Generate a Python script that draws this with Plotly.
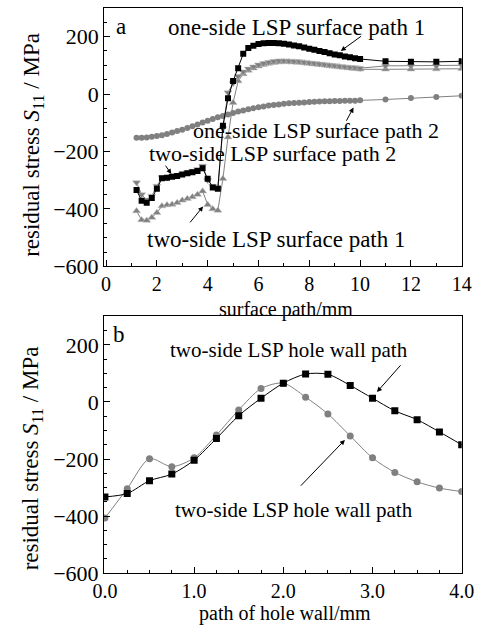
import plotly.graph_objects as go

# ---------------- panel a: surface paths ----------------
x_surf = [1.2, 1.4, 1.6, 1.8, 2.0, 2.2, 2.4, 2.6, 2.8, 3.0, 3.2, 3.4, 3.6, 3.8, 4.0, 4.2, 4.4,
          4.6, 4.8, 5.0, 5.2, 5.4, 5.6, 5.8, 6.0, 6.2, 6.4, 6.6, 6.8, 7.0, 7.2, 7.4, 7.6, 7.8,
          8.0, 8.2, 8.4, 8.6, 8.8, 9.0, 9.2, 9.4, 9.6, 9.8, 10.0, 11, 12, 13, 14]

one_side_p1 = [-334, -371, -378, -362, -330, -293, -291, -288, -285, -280, -276, -272, -268, -258,
               -295, -325, -330, -110, -15, 45, 90, 140, 160, 168, 174, 177, 178, 178, 177, 175,
               172, 169, 166, 162, 158, 154, 150, 146, 142, 138, 135, 131, 128, 125, 122,
               114, 112, 112, 114]

two_side_p2 = [-308, -350, -368, -355, -320, -290, -290, -286, -283, -278, -273, -268, -262, -250,
               -300, -320, -325, -120, 5, 38, 62, 78, 88, 95, 102, 107, 111, 114, 116, 116,
               115, 114, 113, 111, 109, 107, 105, 103, 101, 99, 97, 95, 93, 92, 90,
               98, 98, 98, 100]

two_side_p1 = [-407, -438, -440, -430, -413, -390, -386, -384, -378, -370, -364, -358, -350, -338,
               -385, -400, -405, -295, -150, -30, 45, 70, 82, 90, 97, 102, 106, 109, 111, 112,
               112, 111, 110, 108, 106, 104, 102, 100, 98, 96, 94, 92, 90, 88, 86,
               86, 86, 87, 88]

one_side_p2 = [-152, -152, -151, -149, -146, -143, -139, -134, -129, -124, -118, -112, -106, -99,
               -93, -87, -81, -76, -71, -66, -61, -57, -53, -49, -46, -43, -40, -38, -36, -34,
               -32, -31, -30, -29, -28, -27, -26, -25, -25, -24, -24, -23, -23, -23, -22,
               -19, -14, -10, -6]

# ---------------- panel b: hole wall path ----------------
x_hole = [0.0, 0.25, 0.5, 0.75, 1.0, 1.25, 1.5, 1.75, 2.0, 2.25, 2.5, 2.75, 3.0, 3.25, 3.5, 3.75, 4.0]
hole_black = [-333, -321, -276, -253, -204, -128, -48, 13, 66, 98, 97, 58, 13, -31, -62, -105, -150]
hole_grey = [-407, -304, -199, -227, -196, -116, -28, 47, 66, 17, -42, -119, -196, -247, -280, -302, -314]

FONT = "Liberation Serif"
GREY = "#808080"
BLACK = "#000000"

W, H = 488, 638


def px(xp):
    return xp / W


def py(yp):
    return 1 - yp / H


fig = go.Figure()

# panel a traces
fig.add_trace(go.Scatter(x=x_surf, y=one_side_p2, mode="lines+markers", xaxis="x", yaxis="y",
                         line=dict(color=GREY, width=1),
                         marker=dict(symbol="circle", size=6, color=GREY), showlegend=False))
fig.add_trace(go.Scatter(x=x_surf, y=two_side_p1, mode="lines+markers", xaxis="x", yaxis="y",
                         line=dict(color=GREY, width=1),
                         marker=dict(symbol="triangle-up", size=7, color=GREY,
                                     line=dict(color="#c0c0c0", width=0.5)), showlegend=False))
fig.add_trace(go.Scatter(x=x_surf, y=two_side_p2, mode="lines+markers", xaxis="x", yaxis="y",
                         line=dict(color=GREY, width=1),
                         marker=dict(symbol="triangle-down", size=7, color=GREY,
                                     line=dict(color="#c0c0c0", width=0.5)), showlegend=False))
fig.add_trace(go.Scatter(x=x_surf, y=one_side_p1, mode="lines+markers", xaxis="x", yaxis="y",
                         line=dict(color=BLACK, width=1),
                         marker=dict(symbol="square", size=6, color=BLACK), showlegend=False))

# panel b traces
fig.add_trace(go.Scatter(x=x_hole, y=hole_grey, mode="lines+markers", xaxis="x2", yaxis="y2",
                         line=dict(color=GREY, width=1, shape="spline", smoothing=0.8),
                         marker=dict(symbol="circle", size=7, color=GREY), showlegend=False))
fig.add_trace(go.Scatter(x=x_hole, y=hole_black, mode="lines+markers", xaxis="x2", yaxis="y2",
                         line=dict(color=BLACK, width=1, shape="spline", smoothing=0.8),
                         marker=dict(symbol="square", size=7, color=BLACK), showlegend=False))

axis_common = dict(showline=True, linecolor="black", linewidth=1, mirror=True,
                   ticks="inside", ticklen=6, tickwidth=1, tickcolor="black",
                   showgrid=False, zeroline=False)
xfont = dict(family=FONT, size=20, color="black")
yfont = dict(family=FONT, size=22, color="black")

fig.update_layout(
    width=W, height=H,
    margin=dict(l=0, r=0, t=0, b=0),
    paper_bgcolor="white", plot_bgcolor="white",
    font=dict(family=FONT, size=22, color="black"),
    xaxis=dict(domain=[px(97), px(474)], range=[-0.08, 14], dtick=2, tick0=0, tickfont=xfont,
               minor=dict(dtick=1, ticks="inside", ticklen=3, tickcolor="black"),
               anchor="y", **axis_common),
    yaxis=dict(domain=[py(272), py(8)], range=[-600, 300], dtick=200, tick0=0, tickfont=yfont,
               minor=dict(dtick=50, ticks="inside", ticklen=3, tickcolor="black"),
               anchor="x", **axis_common),
    xaxis2=dict(domain=[px(97), px(474)], range=[-0.01, 4.0], dtick=1, tick0=0, tickformat=".1f",
                tickfont=xfont,
                minor=dict(dtick=0.25, ticks="inside", ticklen=3, tickcolor="black"),
                anchor="y2", **axis_common),
    yaxis2=dict(domain=[py(585), py(323)], range=[-600, 300], dtick=200, tick0=0, tickfont=yfont,
                minor=dict(dtick=50, ticks="inside", ticklen=3, tickcolor="black"),
                anchor="x2", **axis_common),
)

font_a = dict(family=FONT, size=23, color="black")
font_m = dict(family=FONT, size=22, color="black")
font_b = dict(family=FONT, size=21, color="black")
font_t = dict(family=FONT, size=20, color="black")
arrow = dict(showarrow=True, arrowhead=2, arrowsize=1, arrowwidth=1, arrowcolor="black", text="")
annotations = [
    # panel a
    dict(x=0.58, y=235, xref="x", yref="y", text="a", showarrow=False, font=font_a),
    dict(x=7.5, y=230, xref="x", yref="y", text="one-side LSP surface path 1", showarrow=False, font=font_a),
    dict(x=9.24, y=150, xref="x", yref="y", ax=10.1, ay=205, axref="x", ayref="y", **arrow),
    dict(x=8.25, y=-126, xref="x", yref="y", text="one-side LSP surface path 2", showarrow=False, font=font_m),
    dict(x=9.74, y=-47, xref="x", yref="y", ax=9.43, ay=-98, axref="x", ayref="y", **arrow),
    dict(x=6.56, y=-208, xref="x", yref="y", text="two-side LSP surface path 2", showarrow=False, font=font_m),
    dict(x=2.57, y=-278, xref="x", yref="y", ax=2.3, ay=-244, axref="x", ayref="y", **arrow),
    dict(x=6.69, y=-506, xref="x", yref="y", text="two-side LSP surface path 1", showarrow=False, font=font_a),
    dict(x=3.82, y=-391, xref="x", yref="y", ax=3.26, ay=-452, axref="x", ayref="y", **arrow),
    # panel b
    dict(x=0.16, y=235, xref="x2", yref="y2", text="b", showarrow=False, font=font_a),
    dict(x=2.06, y=181, xref="x2", yref="y2", text="two-side LSP hole wall path", showarrow=False, font=font_b),
    dict(x=3.05, y=35, xref="x2", yref="y2", ax=3.33, ay=134, axref="x2", ayref="y2", **arrow),
    dict(x=2.12, y=-378, xref="x2", yref="y2", text="two-side LSP hole wall path", showarrow=False, font=font_b),
    dict(x=2.69, y=-133, xref="x2", yref="y2", ax=2.18, ay=-299, axref="x2", ayref="y2", **arrow),
    # axis titles
    dict(x=px(289), y=py(316), xref="paper", yref="paper", xanchor="center", yanchor="middle",
         text="surface path/mm", showarrow=False, font=font_t),
    dict(x=px(288), y=py(626), xref="paper", yref="paper", xanchor="center", yanchor="middle",
         text="path of hole wall/mm", showarrow=False, font=font_t),
    dict(x=px(22), y=py(148), xref="paper", yref="paper", xanchor="center", yanchor="middle",
         textangle=-90, text="residual stress <i>S</i><sub>11</sub> / MPa", showarrow=False, font=font_a),
    dict(x=px(22), y=py(468), xref="paper", yref="paper", xanchor="center", yanchor="middle",
         textangle=-90, text="residual stress <i>S</i><sub>11</sub> / MPa", showarrow=False, font=font_a),
]
fig.update_layout(annotations=annotations)

# remove the default page margin so the figure fills the window exactly
fig.write_html("out.html", config={"displayModeBar": False},
               post_script="document.body.style.margin='0';document.body.style.overflow='hidden';")
